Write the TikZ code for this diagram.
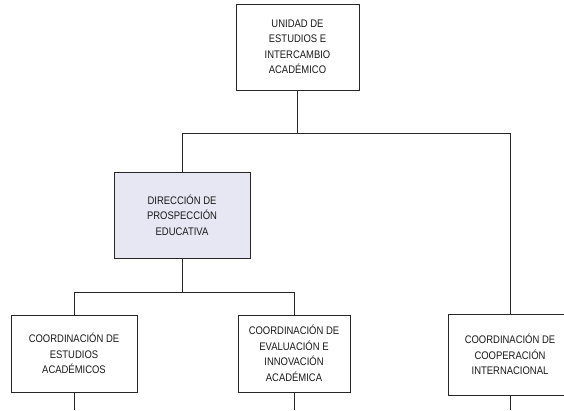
\documentclass[tikz,border=0pt]{standalone}
\usepackage{fontspec}
\setmainfont{Liberation Sans}[FakeStretch=0.86]
\usepackage{xcolor}
\definecolor{lila}{RGB}{231,231,243}

\begin{document}
\begin{tikzpicture}[x=1pt,y=-1pt,
  caja/.style={draw=black!85,line width=0.8pt,align=center,inner sep=0pt,
    font=\fontsize{11}{15.5}\selectfont,text=black!90},
  linea/.style={draw=black!85,line width=0.8pt}]
  \useasboundingbox (0,0) rectangle (564,410);
  \clip (0,0) rectangle (564,410);

  \node[caja,minimum width=123,minimum height=86] (unidad) at (297.5,47)
    {UNIDAD DE\\ESTUDIOS E\\INTERCAMBIO\\ACADÉMICO};
  \node[caja,fill=lila,minimum width=136,minimum height=86] (direccion) at (182,215)
    {DIRECCIÓN DE\\PROSPECCIÓN\\EDUCATIVA};
  \node[caja,minimum width=126,minimum height=77] (estudios) at (74,353.5)
    {COORDINACIÓN DE\\ESTUDIOS\\ACADÉMICOS};
  \node[caja,minimum width=112,minimum height=77] (evaluacion) at (294,353.5)
    {COORDINACIÓN DE\\EVALUACIÓN E\\INNOVACIÓN\\ACADÉMICA};
  \node[caja,minimum width=124,minimum height=81] (coop) at (510,354.5)
    {COORDINACIÓN DE\\COOPERACIÓN\\INTERNACIONAL};

  \coordinate (ramaA) at (510,133);
  \coordinate (ramaB) at (294,292);

  \draw[linea] (unidad) -- (unidad |- ramaA);
  \draw[linea] (direccion.north) |- (ramaA) -- (coop.north);
  \draw[linea] (direccion) -- (direccion |- ramaB);
  \draw[linea] (estudios.north) |- (ramaB) -- (evaluacion.north);

  \foreach \n in {estudios,evaluacion,coop}{
    \draw[linea] (\n.south) -- (\n.south |- 0,410);
  }
\end{tikzpicture}
\end{document}
